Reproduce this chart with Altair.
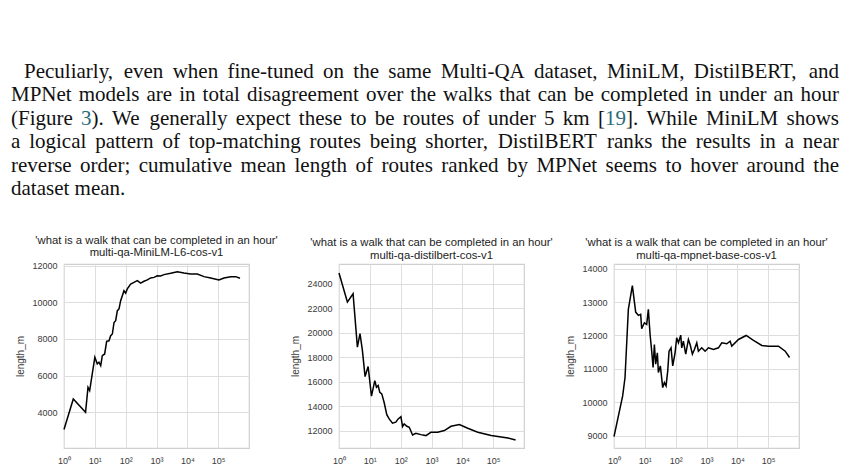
import re
import altair as alt
import pandas as pd

# ---------------- paragraph text ----------------
para_lines = [
    "Peculiarly, even when fine-tuned on the same Multi-QA dataset, MiniLM, DistilBERT, and",
    "MPNet models are in total disagreement over the walks that can be completed in under an hour",
    "(Figure 3). We generally expect these to be routes of under 5 km [19]. While MiniLM shows",
    "a logical pattern of top-matching routes being shorter, DistilBERT ranks the results in a near",
    "reverse order; cumulative mean length of routes ranked by MPNet seems to hover around the",
    "dataset mean.",
]
link_tokens = ["3", "19"]          # reference links shown in colour

query = "'what is a walk that can be completed in an hour'"
models = ["multi-qa-MiniLM-L6-cos-v1", "multi-qa-distilbert-cos-v1", "multi-qa-mpnet-base-cos-v1"]

# ---------------- series (rank, cumulative mean length) ----------------
minilm_rank = [1, 2, 5, 6, 6.8, 10, 12, 13.6, 15.5, 17.5, 20.8, 24.2, 28.8, 32.6, 37, 41.9, 47.4,
               53.7, 60.8, 68.8, 88.3, 100, 113, 145, 186, 239, 306, 393, 504, 647, 830, 1064,
               1365, 1750, 2880, 4740, 7800, 12800, 21100, 34700, 57100, 106000, 155000, 254000,
               370000, 510000]
minilm_len = [3055, 4727, 4000, 5360, 5180, 7000, 6640, 6730, 6545, 7090, 7180, 7870, 7900, 8180,
              8270, 8900, 9000, 9545, 9640, 10090, 10630, 10500, 10730, 11000, 11090, 11180, 11050,
              11150, 11220, 11330, 11360, 11450, 11440, 11510, 11580, 11670, 11600, 11545, 11545,
              11400, 11330, 11220, 11330, 11400, 11400, 11310]

distil_rank = [1, 1.87, 2.86, 3.95, 4.8, 5.74, 7.0, 8.8, 11.3, 14.5, 16.4, 18.6, 21, 24.4, 29,
               35.5, 42.4, 54.4, 69.8, 83, 102, 115, 130, 159, 190, 243, 312, 454, 661, 955, 1585,
               2610, 4300, 8030, 15000, 31700, 86000, 300000, 533000]
distil_len = [24870, 22500, 23180, 18830, 19920, 18560, 16430, 17250, 14830, 16100, 15560, 15700,
              15150, 15020, 14340, 13330, 12980, 12630, 12710, 12980, 13170, 12350, 12570, 12380,
              12300, 11670, 11810, 11700, 11620, 11890, 11890, 12030, 12380, 12520, 12220, 11890,
              11620, 11430, 11270]

mpnet_rank = [1, 1.91, 2.28, 2.92, 3.94, 5.05, 6.17, 7.34, 7.9, 9.66, 11.5, 13, 14.8, 16.7, 18.5,
              20.4, 22.5, 25.5, 27.5, 31.9, 38, 43, 48.8, 55.3, 61, 70.8, 80.3, 95.6, 108, 123, 146,
              157, 178, 212, 259, 294, 349, 405, 483, 547, 702, 901, 1156, 1680, 2440, 3130, 4550,
              5840, 6610, 10900, 19300, 33400, 62300, 102000, 216000, 357000, 493000]
mpnet_len = [8970, 10190, 10740, 12780, 13490, 12700, 12600, 12630, 12200, 12380, 12330, 12780,
             12030, 11530, 11040, 11730, 11140, 11480, 10890, 11090, 10440, 10590, 10490, 10940,
             11530, 11630, 11090, 11480, 11930, 11780, 12010, 11630, 11830, 11440, 11880, 11730,
             11440, 11580, 11780, 11530, 11630, 11530, 11630, 11580, 11630, 11780, 11750, 11830,
             11680, 11880, 12000, 11850, 11700, 11680, 11680, 11530, 11340]

y_domains = [[2050, 12090], [10610, 25600], [8630, 14140]]
y_ticks = [[4000, 6000, 8000, 10000, 12000],
           [12000, 14000, 16000, 18000, 20000, 22000, 24000],
           [9000, 10000, 11000, 12000, 13000, 14000]]
x_ticks = [1, 10, 100, 1000, 10000, 100000]

SANS = "Liberation Sans"
SERIF = "Liberation Serif"
TXT = "#3a3a3a"
PARA_SIZE = 21.0
LINK_COLOR = "#2b6b7b"

# ---------------- justified paragraph layout (Times metrics = Liberation Serif) ----------------
_W = {" ": 250, "!": 333, "'": 180, "(": 333, ")": 333, ",": 250, "-": 333, ".": 250,
      ":": 278, ";": 278, "[": 333, "]": 333, "?": 444}
_W.update({d: 500 for d in "0123456789"})
_W.update(dict(zip("ABCDEFGHIJKLMNOPQRSTUVWXYZ",
                   [722, 667, 667, 722, 611, 556, 722, 722, 333, 389, 722, 611, 889, 722, 722,
                    556, 722, 667, 556, 611, 722, 722, 944, 722, 722, 611])))
_W.update(dict(zip("abcdefghijklmnopqrstuvwxyz",
                   [444, 500, 444, 500, 444, 333, 500, 500, 278, 278, 500, 278, 778, 500, 500,
                    500, 500, 333, 389, 278, 500, 500, 722, 500, 500, 444])))


def text_width(s):
    return sum(_W.get(c, 500) for c in s) * PARA_SIZE / 1000.0


LEFT_PX, INDENT_PX, RIGHT_PX, PLOT_LEFT = 10, 23, 838, 63
rows = []
for li, line in enumerate(para_lines):
    words = line.split(" ")
    start = (INDENT_PX if li == 0 else LEFT_PX) - PLOT_LEFT
    natural = sum(text_width(w) for w in words) + text_width(" ") * (len(words) - 1)
    gap = text_width(" ")
    if li < len(para_lines) - 1:
        gap += ((RIGHT_PX - PLOT_LEFT) - start - natural) / (len(words) - 1)
    x = start
    for w in words:
        pieces = [p for p in re.split(r"(\d+)", w) if p]
        for p in pieces:
            is_link = li == 2 and p in link_tokens
            rows.append({"i": li, "piece": p, "x": x,
                         "kind": "link" if is_link else "text"})
            x += text_width(p)
        x += gap
tdf = pd.DataFrame(rows)

sup_expr = ("'10' + ['\u2070','\u00b9','\u00b2','\u00b3','\u2074','\u2075','\u2076']"
            "[round(log(datum.value)/LN10)]")


def panel(rank, length, model, ydom, yt):
    df = pd.DataFrame({"rank": rank, "length_m": length})
    return (
        alt.Chart(df)
        .mark_line(color="black", strokeWidth=1.5)
        .encode(
            x=alt.X("rank:Q",
                    scale=alt.Scale(type="log", domain=[1, 1000000], nice=False),
                    axis=alt.Axis(title=None, values=x_ticks, labelExpr=sup_expr,
                                  ticks=False, domain=False, grid=True, gridColor="#dedede",
                                  labelFont=SANS, labelFontSize=9, labelColor=TXT,
                                  labelPadding=8, labelFlush=False)),
            y=alt.Y("length_m:Q",
                    scale=alt.Scale(domain=ydom, nice=False, zero=False),
                    axis=alt.Axis(title="length_m", values=yt, format="d",
                                  ticks=False, domain=False, grid=True, gridColor="#dedede",
                                  labelFont=SANS, labelFontSize=9, labelColor=TXT,
                                  labelPadding=7, titleFont=SANS, titleFontSize=10,
                                  titleFontWeight="normal", titleColor=TXT, titlePadding=6)),
            order=alt.Order("rank:Q"),
        )
        .properties(
            width=185, height=184,
            title=alt.TitleParams(text=[query, model], font=SANS, fontSize=11.3,
                                  fontWeight="normal", color="#222222", lineHeight=12.5,
                                  offset=3, anchor="middle"),
        )
    )


p1 = panel(minilm_rank, minilm_len, models[0], y_domains[0], y_ticks[0])
p2 = panel(distil_rank, distil_len, models[1], y_domains[1], y_ticks[1])
p3 = panel(mpnet_rank, mpnet_len, models[2], y_domains[2], y_ticks[2])

row = alt.hconcat(p1, p2, p3, spacing=90, bounds="flush")

text_view = (
    alt.Chart(tdf)
    .mark_text(align="left", baseline="alphabetic", font=SERIF, fontSize=PARA_SIZE)
    .encode(
        x=alt.X("x:Q", scale=None),
        y=alt.Y("i:Q", scale=alt.Scale(domain=[0, 5], range=[77, 194]), axis=None),
        text="piece:N",
        color=alt.Color("kind:N", scale=alt.Scale(domain=["text", "link"],
                                                  range=["#111111", LINK_COLOR]),
                        legend=None),
    )
    .properties(width=770, height=240,
                view=alt.ViewBackground(fill="white", stroke="transparent"))
)

chart = (
    alt.vconcat(text_view, row, spacing=23, bounds="flush")
    .properties(padding={"left": 10, "top": 0, "right": 0, "bottom": 0}, background="white")
    .configure_view(stroke="#cfcfcf", strokeWidth=1.2)
)

chart.save("out.html", embed_options={"renderer": "svg", "actions": False})
